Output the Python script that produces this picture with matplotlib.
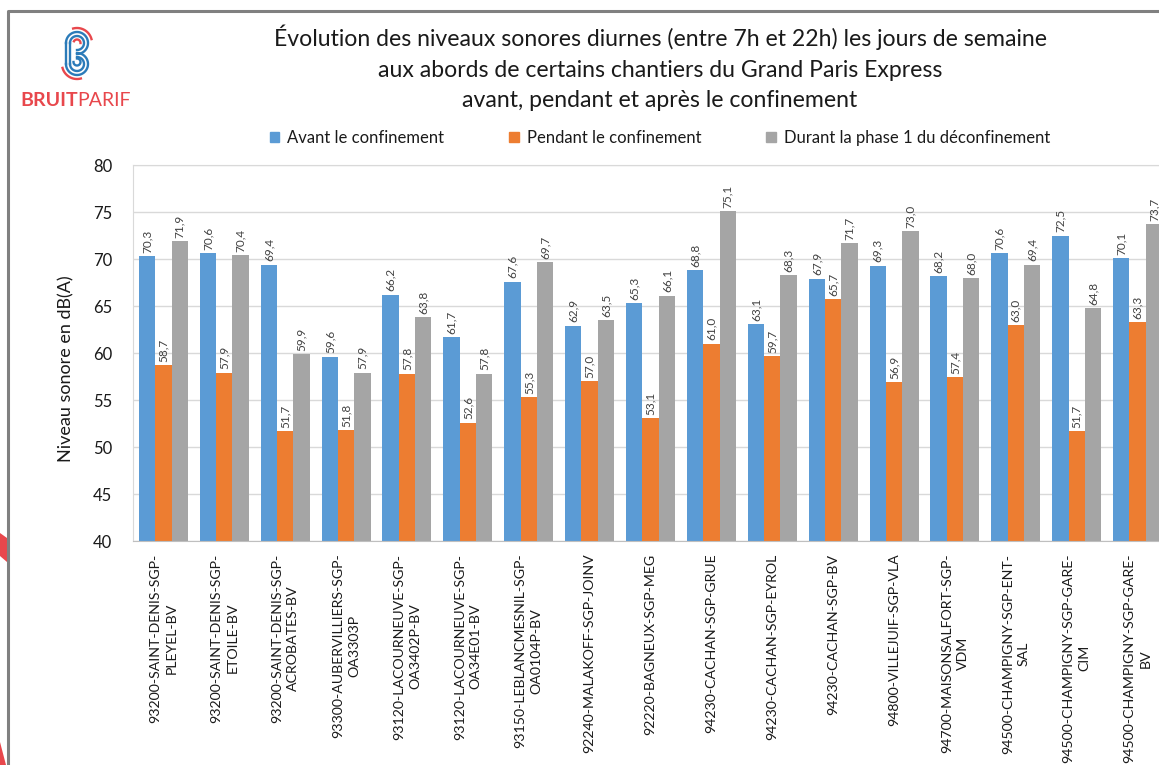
import numpy as np
import matplotlib.pyplot as plt
from matplotlib.patches import Patch, Polygon

# sites de mesure (libelles sur 1 ou 2 lignes)
sites = ['93200-SAINT-DENIS-SGP-\nPLEYEL-BV', '93200-SAINT-DENIS-SGP-\nETOILE-BV',
         '93200-SAINT-DENIS-SGP-\nACROBATES-BV', '93300-AUBERVILLIERS-SGP-\nOA3303P',
         '93120-LACOURNEUVE-SGP-\nOA3402P-BV', '93120-LACOURNEUVE-SGP-\nOA34E01-BV',
         '93150-LEBLANCMESNIL-SGP-\nOA0104P-BV', '92240-MALAKOFF-SGP-JOINV',
         '92220-BAGNEUX-SGP-MEG', '94230-CACHAN-SGP-GRUE', '94230-CACHAN-SGP-EYROL',
         '94230-CACHAN-SGP-BV', '94800-VILLEJUIF-SGP-VLA', '94700-MAISONSALFORT-SGP-\nVDM',
         '94500-CHAMPIGNY-SGP-ENT-\nSAL', '94500-CHAMPIGNY-SGP-GARE-\nCIM',
         '94500-CHAMPIGNY-SGP-GARE-\nBV']

avant = [70.3, 70.6, 69.4, 59.6, 66.2, 61.7, 67.6, 62.9, 65.3, 68.8, 63.1, 67.9, 69.3, 68.2, 70.6, 72.5, 70.1]
pendant = [58.7, 57.9, 51.7, 51.8, 57.8, 52.6, 55.3, 57.0, 53.1, 61.0, 59.7, 65.7, 56.9, 57.4, 63.0, 51.7, 63.3]
phase1 = [71.9, 70.4, 59.9, 57.9, 63.8, 57.8, 69.7, 63.5, 66.1, 75.1, 68.3, 71.7, 73.0, 68.0, 69.4, 64.8, 73.7]

series_names = ['Avant le confinement', 'Pendant le confinement', 'Durant la phase 1 du déconfinement']
colors = ['#5B9BD5', '#ED7D31', '#A5A5A5']

plt.rcParams['font.family'] = ['Lato', 'DejaVu Sans']

W, H = 1159, 765
fig = plt.figure(figsize=(W / 100, H / 100), dpi=100)

# background layer in pixel coords: frame, logo, red shapes
bg = fig.add_axes([0, 0, 1, 1], zorder=0)
bg.set_xlim(0, W)
bg.set_ylim(H, 0)
bg.axis('off')
bg.plot([8, 8, W], [H, 11, 11], color='#808080', lw=2.2)
bg.add_patch(Polygon([[0, 533], [7, 538], [7, 562], [0, 556]], closed=True, color='#E8474C', lw=0))
bg.add_patch(Polygon([[0, 742], [6, 765], [0, 765]], closed=True, color='#E8474C', lw=0))


def arc(cx, cy, r, a0, a1):
    t = np.radians(np.linspace(a0, a1, 60))
    return cx + r * np.cos(t), cy - r * np.sin(t)


blue_logo = '#2B7BB9'
red_logo = '#E8474C'
for r in [11, 7]:
    bg.plot(*arc(77, 43, r, 180, -90), color=blue_logo, lw=1.7)
    bg.plot(*arc(77, 64, r, 90, -180), color=blue_logo, lw=1.7)
bg.plot([66, 66], [43, 64], color=blue_logo, lw=1.7)
bg.plot([70, 70], [43, 64], color=blue_logo, lw=1.7)
bg.plot(*arc(77, 62, 3.5, 90, -180), color=blue_logo, lw=1.7)
bg.plot(*arc(77, 43, 15, 15, 105), color=red_logo, lw=1.7)
bg.plot(*arc(77, 43, 3.5, 0, 150), color=red_logo, lw=1.7)
bg.plot(*arc(77, 64, 15, 195, 285), color=red_logo, lw=1.7)
bruit = bg.text(20, 100, 'BRUIT', color=red_logo, fontsize=14, fontweight='bold', va='center', ha='left')
bg.annotate('PARIF', xy=(1, 0.5), xycoords=bruit, va='center', ha='left', color=red_logo, fontsize=14)

# main chart
ax = fig.add_axes([133 / W, 1 - 541 / H, (1168 - 133) / W, (541 - 165) / H], zorder=1)
x = np.arange(len(sites))
width = 0.268
for k, (vals, col) in enumerate(zip([avant, pendant, phase1], colors)):
    pos = x + (k - 1) * width
    ax.bar(pos, np.array(vals) - 40, width, bottom=40, color=col, zorder=2)
    for xi, v in zip(pos, vals):
        ax.text(xi, v + 0.35, f'{v:.1f}'.replace('.', ','), rotation=90, ha='center', va='bottom',
                fontsize=8.5, color='#404040')

ax.set_xlim(-0.5, len(sites) - 0.5)
ax.set_ylim(40, 80)
ax.set_yticks(range(40, 81, 5))
ax.set_xticks(x)
ax.set_xticklabels(sites, rotation=90, multialignment='center', linespacing=1.4)
ax.tick_params(axis='x', length=0, pad=9, labelsize=10.2, labelcolor='#1a1a1a')
ax.tick_params(axis='y', length=0, pad=15, labelsize=12, labelcolor='#1a1a1a')
ax.yaxis.grid(True, color='#D9D9D9', lw=1)
ax.set_axisbelow(True)
for s in ['left', 'top', 'right']:
    ax.spines[s].set_color('#D9D9D9')
ax.spines['bottom'].set_color('#BFBFBF')
ax.set_ylabel('Niveau sonore en dB(A)', fontsize=13, color='#1a1a1a')
ax.yaxis.set_label_coords((74 - 133) / 1035, 0.457)

fig.text(660 / W, 1 - 68 / H,
         'Évolution des niveaux sonores diurnes (entre 7h et 22h) les jours de semaine\n'
         'aux abords de certains chantiers du Grand Paris Express\n'
         'avant, pendant et après le confinement',
         ha='center', va='center', fontsize=16.6, linespacing=1.55, color='#1a1a1a')

handles = [Patch(color=c) for c in colors]
fig.legend(handles, series_names, loc='center', bbox_to_anchor=(660 / W, 1 - 138 / H), ncol=3,
           frameon=False, fontsize=12, handlelength=0.55, handleheight=0.55, handletextpad=0.5,
           columnspacing=3.9, labelcolor='#1a1a1a')

fig.savefig('out.png', dpi=100)
